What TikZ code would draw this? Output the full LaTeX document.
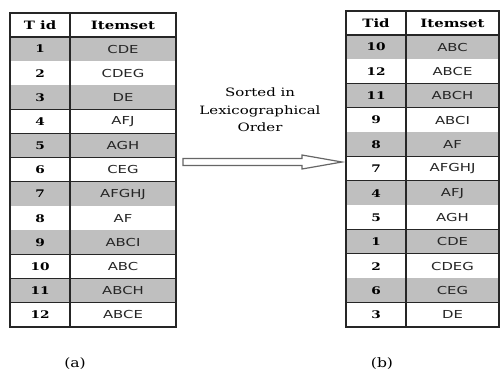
\documentclass[tikz,border=0pt]{standalone}
\usepackage{fontspec}
\setmainfont{DejaVu Serif}
\newfontfamily\itemfont{DejaVu Sans}
\definecolor{rowgray}{gray}{0.75}
\definecolor{inkgray}{gray}{0.15}
\tikzset{headtext/.style={font=\bfseries\fontsize{11.5}{13}\selectfont, xscale=1.3, inner sep=0pt},
tidtext/.style={font=\bfseries\fontsize{10.5}{12}\selectfont, xscale=1.3, inner sep=0pt},
itemtext/.style={font=\itemfont\fontsize{11}{12}\selectfont, xscale=1.35, text=inkgray, inner sep=0pt},
tablerule/.style={line width=1.1pt, draw=black!85},
arrowline/.style={line width=1.2pt, draw=black!60, fill=white, line join=miter},
captext/.style={font=\fontsize{13}{15}\selectfont, xscale=1.2}}

\begin{document}
\begin{tikzpicture}[x=1pt,y=-1pt]
\useasboundingbox (0,0) rectangle (502,376);

% table (a)
\foreach \t/\s [count=\i] in {1/CDE,2/CDEG,3/DE,4/AFJ,5/AGH,6/CEG,7/AFGHJ,8/AF,9/ABCI,10/ABC,11/ABCH,12/ABCE}{
    \pgfmathparse{mod(\i,2)==1 ? "rowgray" : "white"}
    \edef\rowcol{\pgfmathresult}
    \fill[\rowcol] (10,{37+(\i-1)*24.17}) rectangle (176,{37+\i*24.17});
    \draw[tablerule] (10,{37+\i*24.17}) -- (176,{37+\i*24.17});
    \node[tidtext] (a-t\i) at (40,{37+(\i-0.5)*24.17}) {\t};
    \node[itemtext] (a-s\i) at (123,{37+(\i-0.5)*24.17}) {\s};
}
\node[headtext] (a-tid) at (40,25) {T id};
\node[headtext] (a-set) at (123,25) {Itemset};
\draw[tablerule] (10,37) -- (176,37);
\draw[tablerule] (70,13) -- (70,327);
\draw[tablerule] (10,13) rectangle (176,327);

% table (b)
\foreach \t/\s [count=\i] in {10/ABC,12/ABCE,11/ABCH,9/ABCI,8/AF,7/AFGHJ,4/AFJ,5/AGH,1/CDE,2/CDEG,6/CEG,3/DE}{
    \pgfmathparse{mod(\i,2)==1 ? "rowgray" : "white"}
    \edef\rowcol{\pgfmathresult}
    \fill[\rowcol] (346,{35+(\i-1)*24.33}) rectangle (499,{35+\i*24.33});
    \draw[tablerule] (346,{35+\i*24.33}) -- (499,{35+\i*24.33});
    \node[tidtext] (b-t\i) at (376,{35+(\i-0.5)*24.33}) {\t};
    \node[itemtext] (b-s\i) at (452.5,{35+(\i-0.5)*24.33}) {\s};
}
\node[headtext] (b-tid) at (376,23) {Tid};
\node[headtext] (b-set) at (452.5,23) {Itemset};
\draw[tablerule] (346,35) -- (499,35);
\draw[tablerule] (406,11) -- (406,327);
\draw[tablerule] (346,11) rectangle (499,327);

% arrow
\coordinate (arrowtail) at (183,162);
\coordinate (arrowtip) at (342,162);
\draw[arrowline] ([yshift=3.5pt]arrowtail) -- ([xshift=-40pt,yshift=3.5pt]arrowtip)
    -- ([xshift=-40pt,yshift=7pt]arrowtip) -- (arrowtip)
    -- ([xshift=-40pt,yshift=-7pt]arrowtip) -- ([xshift=-40pt,yshift=-3.5pt]arrowtip)
    -- ([yshift=-3.5pt]arrowtail) -- cycle;
\node[align=center, font=\fontsize{11.5}{17.5}\selectfont, xscale=1.3] (sorted) at (260,110) {Sorted in\\Lexicographical\\Order};

\node[captext] (cap-a) at (75,364) {(a)};
\node[captext] (cap-b) at (382,364) {(b)};
\end{tikzpicture}
\end{document}
